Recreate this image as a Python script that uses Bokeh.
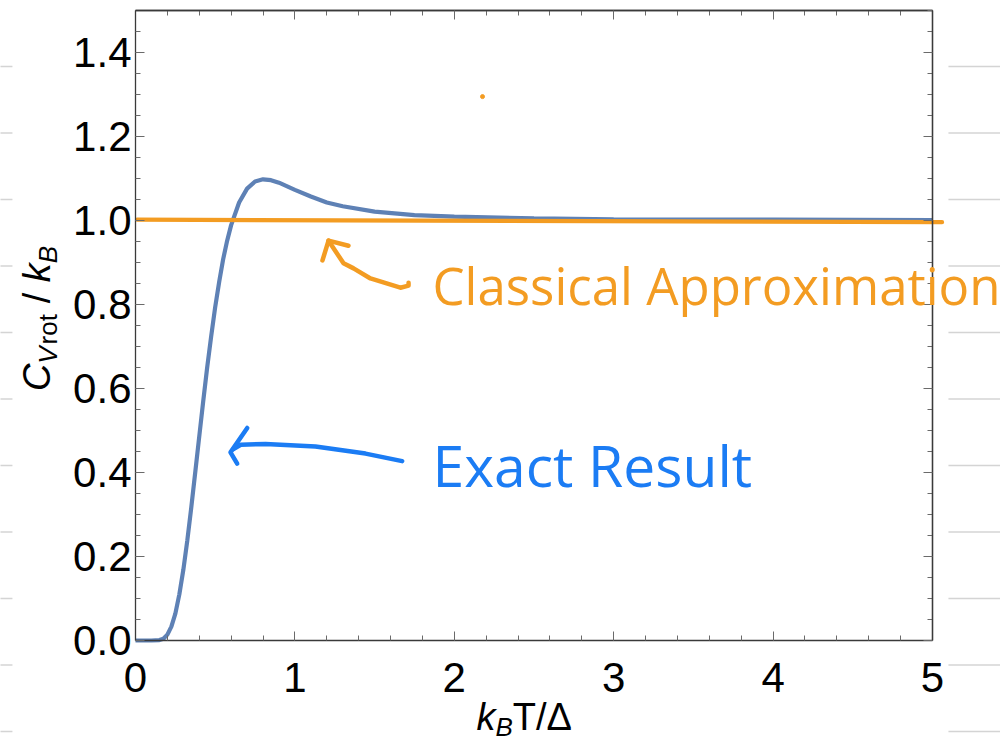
import numpy as np
from bokeh.plotting import figure
from bokeh.models import (LinearAxis, SingleIntervalTicker, FixedTicker, Range1d, Label,
                          BoxAnnotation, PrintfTickFormatter)
from bokeh.embed import file_html
from bokeh.resources import INLINE

# ---------------- data ----------------
t_values = [0.0, 0.1, 0.15, 0.175, 0.2, 0.225, 0.25, 0.275, 0.3, 0.325, 0.35,
            0.375, 0.4, 0.425, 0.45, 0.475, 0.5, 0.525, 0.55, 0.575, 0.6, 0.65,
            0.7, 0.75, 0.8, 0.85, 0.9, 1.0, 1.1, 1.2, 1.3, 1.5, 1.75, 2.0, 2.5,
            3.0, 4.0, 5.0]
cv_exact = [0.0, 0.0, 0.001, 0.004, 0.014, 0.033, 0.064, 0.110, 0.168, 0.238,
            0.317, 0.401, 0.486, 0.570, 0.651, 0.725, 0.794, 0.854, 0.908, 0.952,
            0.989, 1.043, 1.076, 1.093, 1.098, 1.096, 1.090, 1.073, 1.057, 1.043,
            1.034, 1.021, 1.013, 1.009, 1.005, 1.003, 1.002, 1.001]

classical_x = [0.01, 5.06]
classical_y = [1.002, 0.996]

# hand-drawn annotation strokes (data coordinates)
orange_shaft_x = [1.211, 1.305, 1.368, 1.474, 1.662, 1.713, 1.713]
orange_shaft_y = [0.952, 0.898, 0.886, 0.862, 0.840, 0.845, 0.852]
orange_head_x = [1.173, 1.211, 1.336]
orange_head_y = [0.905, 0.952, 0.940]
orange_dot_x = [2.177]
orange_dot_y = [1.295]

blue_shaft_x = [0.612, 0.660, 0.816, 1.129, 1.443, 1.673]
blue_shaft_y = [0.455, 0.466, 0.468, 0.462, 0.445, 0.427]
blue_head_x = [0.701, 0.596, 0.638]
blue_head_y = [0.506, 0.448, 0.421]

classical_text = "Classical Approximation"
exact_text = "Exact Result"

x_min, x_max = 0, 5
y_min, y_max = 0, 1.5
x_major_step, x_minor_step = 1.0, 0.2
y_major_step, y_minor_step = 0.2, 0.05

# notebook ruling lines of the page behind the picture (data y)
ruling_y = [1.3667, 1.2083, 1.05, 0.8917, 0.7333, 0.575, 0.4167, 0.2583, 0.1,
            -0.0583, -0.2167]

# ---------------- layout / styles ----------------
W, H = 1000, 745
ORIGIN_PX_X, ORIGIN_PX_Y = 135, 640      # where (0, 0) sits on the canvas
PX_PER_X, PX_PER_Y = 159.4, 420.0

EXACT_COLOR = "#5E81B5"
ORANGE = "#F39C22"
BLUE = "#1B7CF4"
FRAME = "#3a3a3a"
TICK = "#6a6a6a"
RULE = "#d4d4d4"
FONT = "Liberation Sans"
HAND = "Open Sans"
MAJOR_LEN, MINOR_LEN = 9, 5

x_range = Range1d(-ORIGIN_PX_X / PX_PER_X, (W - ORIGIN_PX_X) / PX_PER_X)
y_range = Range1d((ORIGIN_PX_Y - H) / PX_PER_Y, ORIGIN_PX_Y / PX_PER_Y)

p = figure(width=W, height=H, x_range=x_range, y_range=y_range, title=None,
           output_backend="svg", toolbar_location=None,
           x_axis_location=None, y_axis_location=None,
           min_border=0, min_border_left=0, min_border_right=0,
           min_border_top=0, min_border_bottom=0)
p.outline_line_color = None
p.xgrid.visible = False
p.ygrid.visible = False
p.background_fill_color = "white"
p.border_fill_color = "white"


def base_style(ax):
    ax.axis_line_color = FRAME
    ax.axis_line_width = 1.3
    ax.major_tick_out = 0
    ax.minor_tick_out = 0
    ax.major_tick_line_color = TICK
    ax.minor_tick_line_color = TICK


def labelled_axis(step, minors, bounds, loc, fmt=None):
    ax = LinearAxis(fixed_location=loc, bounds=bounds)
    ax.ticker = SingleIntervalTicker(interval=step, num_minor_ticks=minors)
    base_style(ax)
    ax.major_tick_in = MAJOR_LEN
    ax.minor_tick_in = MINOR_LEN
    ax.major_label_text_font = FONT
    ax.major_label_text_font_size = "42px"
    ax.major_label_text_color = "black"
    if fmt is not None:
        ax.formatter = fmt
    return ax


def tick_only_axes(positions, length, bounds, loc):
    # an axis with no major ticks (hence no labels): only tick marks
    ax = LinearAxis(fixed_location=loc, bounds=bounds,
                    ticker=FixedTicker(ticks=[], minor_ticks=list(positions)))
    base_style(ax)
    ax.major_tick_in = 0
    ax.minor_tick_in = length
    return ax


xb = labelled_axis(x_major_step, 5, (x_min, x_max), y_min)
xb.major_label_standoff = 22
p.add_layout(xb, "below")
yl = labelled_axis(y_major_step, 4, (y_min, y_max), x_min,
                   fmt=PrintfTickFormatter(format="%.1f"))
yl.major_label_standoff = 4
p.add_layout(yl, "left")

x_major_pos = np.round(np.arange(x_min, x_max + 1e-9, x_major_step), 3)
x_minor_pos = np.round(np.arange(x_min, x_max + 1e-9, x_minor_step), 3)
y_major_pos = np.round(np.arange(y_min, y_max + 1e-9, y_major_step), 3)
y_minor_pos = np.round(np.arange(y_min, y_max + 1e-9, y_minor_step), 3)

p.add_layout(tick_only_axes(x_minor_pos, MINOR_LEN, (x_min, x_max), y_max), "above")
p.add_layout(tick_only_axes(x_major_pos, MAJOR_LEN, (x_min, x_max), y_max), "above")
p.add_layout(tick_only_axes(y_minor_pos, MINOR_LEN, (y_min, y_max), x_max), "right")
p.add_layout(tick_only_axes(y_major_pos, MAJOR_LEN, (y_min, y_max), x_max), "right")

# ruling lines of the notebook page, left and right of the picture
for yv in ruling_y:
    p.add_layout(BoxAnnotation(left=5.1, right=5.6, bottom=yv - 0.0018, top=yv + 0.0018,
                               fill_color=RULE, fill_alpha=1.0, line_color=None,
                               level="underlay"))
    p.add_layout(BoxAnnotation(left=-0.9, right=-0.772, bottom=yv - 0.0018, top=yv + 0.0018,
                               fill_color=RULE, fill_alpha=1.0, line_color=None,
                               level="underlay"))

# curves
p.line(t_values, cv_exact, line_color=EXACT_COLOR, line_width=4.2)
p.line(classical_x, classical_y, line_color=ORANGE, line_width=4.2, line_cap="round")

# hand-drawn arrows
p.line(orange_shaft_x, orange_shaft_y, line_color=ORANGE, line_width=4.5,
       line_cap="round", line_join="round")
p.line(orange_head_x, orange_head_y, line_color=ORANGE, line_width=4.5,
       line_cap="round", line_join="round")
p.scatter(orange_dot_x, orange_dot_y, size=4, color=ORANGE)
p.line(blue_shaft_x, blue_shaft_y, line_color=BLUE, line_width=4.5,
       line_cap="round", line_join="round")
p.line(blue_head_x, blue_head_y, line_color=BLUE, line_width=4.5,
       line_cap="round", line_join="round")

# hand-written texts
p.add_layout(Label(x=1.863, y=0.846, text=classical_text, text_font=HAND,
                   text_font_size="51px", text_color=ORANGE,
                   text_baseline="alphabetic", text_align="left"))
p.add_layout(Label(x=1.863, y=0.418, text=exact_text, text_font=HAND,
                   text_font_size="57px", text_color=BLUE,
                   text_baseline="alphabetic", text_align="left"))


def axis_text(x, y, text, size, italic=False, angle=0.0):
    p.add_layout(Label(x=x, y=y, text=text, angle=angle, text_font=FONT,
                       text_font_style="italic" if italic else "normal",
                       text_font_size=size, text_color="black",
                       text_baseline="alphabetic", text_align="left"))


# x axis label: k_B T/Δ
axis_text(2.139, -0.183, "k", "38px", italic=True)
axis_text(2.258, -0.207, "B", "26px", italic=True)
axis_text(2.367, -0.183, "T/Δ", "38px")

# y axis label: C_{V rot} / k_B  (rotated, reading upwards)
ang = np.pi / 2
axis_text(-0.618, 0.594, "C", "38px", italic=True, angle=ang)
axis_text(-0.550, 0.659, "V", "26px", italic=True, angle=ang)
axis_text(-0.550, 0.705, "rot", "26px", angle=ang)
axis_text(-0.618, 0.803, "/", "38px", angle=ang)
axis_text(-0.618, 0.853, "k", "38px", italic=True, angle=ang)
axis_text(-0.550, 0.898, "B", "26px", italic=True, angle=ang)

open("out.html", "w").write(file_html(p, INLINE))
